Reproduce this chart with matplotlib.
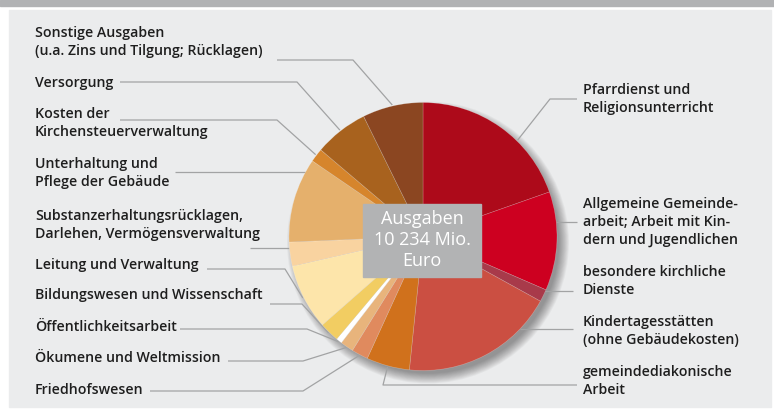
import numpy as np
import matplotlib
matplotlib.use("Agg")
import matplotlib.pyplot as plt
import matplotlib.patches as patches

plt.rcParams['font.family'] = ['Open Sans', 'DejaVu Sans']

# slice data, clockwise from 12 o'clock (share in percent)
categories = [
    "Pfarrdienst und\nReligionsunterricht",
    "Allgemeine Gemeinde-\narbeit; Arbeit mit Kin-\ndern und Jugendlichen",
    "besondere kirchliche\nDienste",
    "Kindertagesstätten\n(ohne Gebäudekosten)",
    "gemeindediakonische\nArbeit",
    "Friedhofswesen",
    "Ökumene und Weltmission",
    "Öffentlichkeitsarbeit",
    "Bildungswesen und Wissenschaft",
    "Leitung und Verwaltung",
    "Substanzerhaltungsrücklagen,\nDarlehen, Vermögensverwaltung",
    "Unterhaltung und\nPflege der Gebäude",
    "Kosten der\nKirchensteuerverwaltung",
    "Versorgung",
    "Sonstige Ausgaben\n(u.a. Zins und Tilgung; Rücklagen)",
]
shares = [19.6, 11.9, 1.5, 18.6, 5.2, 2.0, 1.6, 0.7, 2.4, 7.9, 2.9, 10.2, 1.65, 6.5, 7.3]
colors = ["#ad0a1a", "#cd0020", "#a83a4a", "#cb4f42", "#d0711c", "#e08a5e",
          "#e8b47c", "#ffffff", "#f2cd62", "#fde5aa", "#f9d3a0", "#e5b06c",
          "#d6852c", "#a8621e", "#8b4621"]
center_text = "Ausgaben\n10 234 Mio.\nEuro"

# layout: label anchor (x, y center), ha, leader start, elbow (None = horizontal), anchor fraction
layout = [
    ((583, 99), 'left', (577, 99), (550, 99), 0.63),
    ((583, 222), 'left', (577, 222), None, None),
    ((583, 281), 'left', (573, 291), None, None),
    ((583, 331), 'left', (573, 329), None, None),
    ((583, 381), 'left', (577, 385), (383, 385), 0.5),
    ((35, 390), 'left', (150, 391), (303, 391), 0.5),
    ((35, 358), 'left', (228, 361), (303, 361), 0.5),
    ((35, 327), 'left', (180, 329), (307, 329), 0.5),
    ((35, 295), 'left', (270, 304), (302, 304), 0.5),
    ((35, 265), 'left', (207, 269), (285, 269), 0.5),
    ((35, 225), 'left', (250, 248), None, None),
    ((35, 173), 'left', (175, 172), None, None),
    ((35, 123), 'left', (120, 120), (277, 120), 0.5),
    ((35, 83), 'left', (120, 82), (297, 82), 0.5),
    ((35, 42), 'left', (277, 60), (353, 60), 0.5),
]

W, H = 774, 409
fig = plt.figure(figsize=(W / 100, H / 100), dpi=100, facecolor="white")
ax = fig.add_axes([0, 0, 1, 1])

cx, cy, r = 423, 236.5, 134

# background panel and header band
ax.add_patch(patches.Rectangle((9, 10), 762, 397, color="#ebeced", zorder=0))
ax.add_patch(patches.Rectangle((0, 0), W, 6, color="#b1b2b4", zorder=0))

# soft drop shadow under the pie
for i in range(12):
    ax.add_patch(patches.Circle((cx + 5, cy + 6), r + 7 - i * 0.9,
                                color="#000000", alpha=0.035, lw=0, zorder=1))

# pie (y axis is inverted, so counterclock=True runs clockwise on screen)
ax.pie(shares, colors=colors, startangle=-90, counterclock=True,
       center=(cx, cy), radius=r, frame=True,
       wedgeprops=dict(linewidth=0.4, edgecolor=(1, 1, 1, 0.3), zorder=2))

# leader lines and labels
total = sum(shares)
cum = np.concatenate([[0], np.cumsum(shares)])
for i, (label, (pos, ha, start, elbow, frac)) in enumerate(zip(categories, layout)):
    sx, sy = start
    if elbow is None:
        dy = sy - cy
        dx = np.sqrt(r ** 2 - dy ** 2)
        ex = cx + dx if sx > cx else cx - dx
        xs, ys = [sx, ex], [sy, sy]
    else:
        ang = np.deg2rad(360 * (cum[i] + frac * shares[i]) / total)
        ex, ey = cx + (r + 1) * np.sin(ang), cy - (r + 1) * np.cos(ang)
        xs, ys = [sx, elbow[0], ex], [sy, elbow[1], ey]
    ax.plot(xs, ys, color="#a2a3a4", lw=0.9, zorder=1.5, solid_capstyle='butt')
    ax.text(pos[0], pos[1], label, ha=ha, va='center', fontsize=10.2,
            fontweight='semibold', color="#1e1e1e", linespacing=1.36, zorder=5)

# centre box
ax.add_patch(patches.Rectangle((363, 204), 118, 73, color="#b2b3b4", zorder=4))
ax.text(422, 240, center_text, ha='center', va='center', fontsize=13,
        color="white", linespacing=1.2, zorder=5)

ax.set_xlim(0, W)
ax.set_ylim(H, 0)
ax.set_aspect('auto')
ax.axis('off')

fig.savefig("out.png", dpi=100, facecolor="white")
